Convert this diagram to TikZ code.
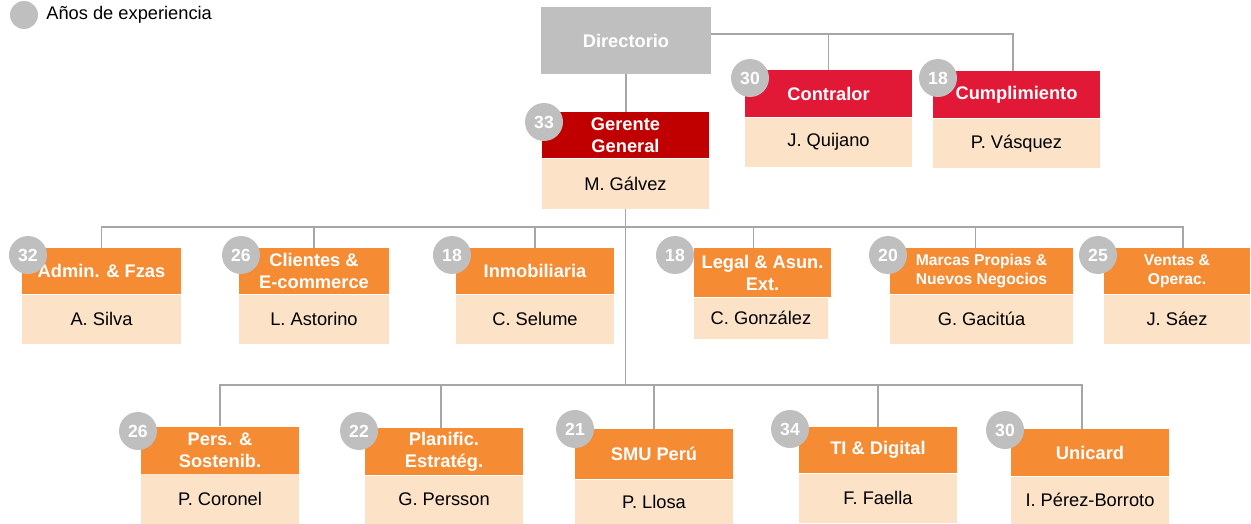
\documentclass[tikz,border=0pt]{standalone}
\usepackage{fontspec}
\setmainfont{Liberation Sans}
\usepackage{xcolor}
\usetikzlibrary{positioning}
\definecolor{smuorange}{HTML}{F58B33}
\definecolor{smupeach}{HTML}{FCE2C6}
\definecolor{smured}{HTML}{E21837}
\definecolor{smudarkred}{HTML}{C00000}
\definecolor{smugray}{HTML}{BFBFBF}
\definecolor{linegray}{HTML}{A6A6A6}

\begin{document}
\begin{tikzpicture}[x=0.02cm, y=-0.02cm,
rolenode/.style={rectangle, fill=smuorange, text=white, font=\fontsize{10.4}{12.5}\selectfont\bfseries, align=center, inner sep=0pt, minimum height=0.92cm},
namenode/.style={rectangle, fill=smupeach, text=black, font=\fontsize{10.4}{12.5}\selectfont, inner sep=0pt, minimum height=0.98cm},
yearsnode/.style={circle, fill=smugray, text=white, font=\fontsize{10}{12}\selectfont\bfseries, inner sep=0pt, minimum size=0.76cm},
orgline/.style={draw=linegray, line width=1.1pt}
]
\useasboundingbox (0,0) rectangle (1251,524);
% Legend
\node[yearsnode, minimum size=0.56cm] (legdot) at (24,15) {};
\node[anchor=west, inner sep=0pt, font=\fontsize{10.4}{12.5}\selectfont] (legtext) at (46,15) {Años de experiencia};
% Top level
%Nodes
\node[rectangle, fill=smugray, text=white, font=\fontsize{10.4}{12.5}\selectfont\bfseries, minimum width=3.4cm, minimum height=1.34cm] (dir) at (626,40.5) {Directorio};
\node[rolenode, fill=smudarkred, minimum width=3.34cm] (gg) at (625.5,135) {Gerente\\General};
\node[namenode, minimum width=3.34cm, minimum height=1cm] (ggname) [below=0pt of gg] {M. Gálvez};
\node[rolenode, fill=smured, minimum width=3.34cm, minimum height=0.94cm] (ctl) at (828.5,93.5) {Contralor};
\node[namenode, minimum width=3.34cm] (ctlname) [below=0pt of ctl] {J. Quijano};
\node[rolenode, fill=smured, minimum width=3.34cm, minimum height=0.94cm] (cmp) at (1016.5,94.5) {Cumplimiento};
\node[namenode, minimum width=3.34cm] (cmpname) [below=0pt of cmp] {P. Vásquez};
\coordinate (bus1) at (828,34);
%Lines
\draw[orgline] (dir.south) -- (dir.south |- gg.north);
\draw[orgline] (dir.east |- bus1) -- ([xshift=-3.5*0.02cm]cmp.north |- bus1) -- ([xshift=-3.5*0.02cm]cmp.north);
\draw[orgline] (ctl.north) -- (ctl.north |- bus1);
% Second level
%Nodes
\node[rolenode, minimum width=3.18cm] (adm) at (101.5,271) {Admin. \& Fzas};
\node[namenode, minimum width=3.18cm] (admname) [below=0pt of adm] {A. Silva};
\node[rolenode, minimum width=3.0cm] (cli) at (314,271) {Clientes \&\\E-commerce};
\node[namenode, minimum width=3.0cm] (cliname) [below=0pt of cli] {L. Astorino};
\node[rolenode, minimum width=3.16cm] (inm) at (535,271) {Inmobiliaria};
\node[namenode, minimum width=3.16cm] (inmname) [below=0pt of inm] {C. Selume};
\node[rolenode, minimum width=2.74cm, minimum height=0.98cm] (leg) at (762.5,272.5) {Legal \& Asun.\\Ext.};
\node[namenode, minimum width=2.68cm, minimum height=0.82cm, anchor=north west] (legname) at (leg.south west) {C. González};
\node[rolenode, minimum width=3.66cm, font=\fontsize{8.9}{11}\selectfont\bfseries] (mar) at (981.5,271) {Marcas Propias \&\\Nuevos Negocios};
\node[namenode, minimum width=3.66cm] (marname) [below=0pt of mar] {G. Gacitúa};
\node[rolenode, minimum width=2.92cm, font=\fontsize{8.9}{11}\selectfont\bfseries] (ven) at (1177,271) {Ventas \&\\Operac.};
\node[namenode, minimum width=2.92cm] (venname) [below=0pt of ven] {J. Sáez};
\coordinate (bus2) at (626,227);
%Lines
\draw[orgline] (ggname.south) -- (ggname.south |- bus2);
\draw[orgline] (adm.north) -- (adm.north |- bus2) -- ([xshift=6*0.02cm]ven.north |- bus2) -- ([xshift=6*0.02cm]ven.north);
\draw[orgline] (cli.north) -- (cli.north |- bus2);
\draw[orgline] (inm.north) -- (inm.north |- bus2);
\draw[orgline] ([xshift=-9*0.02cm]leg.north) -- ([xshift=-9*0.02cm]leg.north |- bus2);
\draw[orgline] ([xshift=-6*0.02cm]mar.north) -- ([xshift=-6*0.02cm]mar.north |- bus2);
% Third level
%Nodes
\node[rolenode, minimum width=3.16cm, minimum height=0.94cm] (per) at (220,450) {Pers. \&\\Sostenib.};
\node[namenode, minimum width=3.16cm, minimum height=1cm] (pername) [below=0pt of per] {P. Coronel};
\node[rolenode, minimum width=3.16cm, minimum height=0.94cm] (pla) at (444,451.5) {Planific.\\Estratég.};
\node[namenode, minimum width=3.16cm, minimum height=0.96cm] (planame) [below=0pt of pla] {G. Persson};
\node[rolenode, minimum width=3.16cm, minimum height=1.0cm] (smu) at (654,454) {SMU Perú};
\node[namenode, minimum width=3.16cm, minimum height=0.88cm] (smuname) [below=0pt of smu] {P. Llosa};
\node[rolenode, minimum width=3.16cm, minimum height=0.92cm] (ti) at (878,450) {TI \& Digital};
\node[namenode, minimum width=3.16cm, minimum height=0.98cm] (tiname) [below=0pt of ti] {F. Faella};
\node[rolenode, minimum width=3.16cm, minimum height=0.94cm] (uni) at (1090,452.5) {Unicard};
\node[namenode, minimum width=3.16cm, minimum height=0.94cm] (uniname) [below=0pt of uni] {I. Pérez-Borroto};
\coordinate (bus3) at (626,385);
%Lines
\draw[orgline] (ggname.south |- bus2) -- (ggname.south |- bus3);
\draw[orgline] (per.north) -- (per.north |- bus3) -- ([xshift=-8*0.02cm]uni.north |- bus3) -- ([xshift=-8*0.02cm]uni.north);
\draw[orgline] ([xshift=-3*0.02cm]pla.north) -- ([xshift=-3*0.02cm]pla.north |- bus3);
\draw[orgline] (smu.north) -- (smu.north |- bus3);
\draw[orgline] (ti.north) -- (ti.north |- bus3);
% Years
\node[yearsnode] (ggyrs)  at (544,122) {33};
\node[yearsnode] (ctlyrs) at (750,78)  {30};
\node[yearsnode] (cmpyrs) at (938,78)  {18};
\node[yearsnode] (admyrs) at (28,255)  {32};
\node[yearsnode] (cliyrs) at (241,255) {26};
\node[yearsnode] (inmyrs) at (452,255) {18};
\node[yearsnode] (legyrs) at (675,255) {18};
\node[yearsnode] (maryrs) at (888,255) {20};
\node[yearsnode] (venyrs) at (1098,255) {25};
\node[yearsnode] (peryrs) at (138,431) {26};
\node[yearsnode] (playrs) at (359,431) {22};
\node[yearsnode] (smuyrs) at (575,429) {21};
\node[yearsnode] (tiyrs)  at (790,429) {34};
\node[yearsnode] (uniyrs) at (1005,430) {30};

\end{tikzpicture}
\end{document}
